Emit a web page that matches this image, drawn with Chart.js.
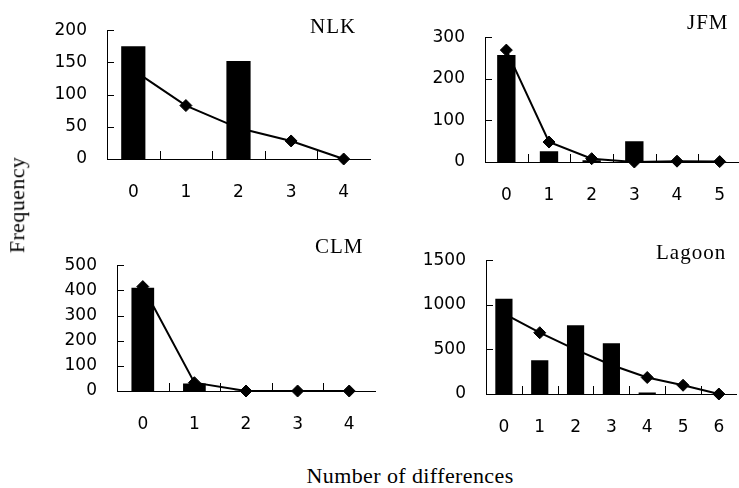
<!DOCTYPE html>
<html>
<head>
<meta charset="utf-8">
<script src="https://cdn.jsdelivr.net/npm/chart.js@4/dist/chart.umd.min.js"></script>
<style>
  html, body { margin: 0; padding: 0; background: #fff; overflow: hidden; }
  body { width: 739px; height: 488px; position: relative; }
  canvas { position: absolute; }
  .txt { position: absolute; font-family: "Liberation Serif", "Times New Roman", serif; color: #000; white-space: nowrap; line-height: 1; }
  .ttl { font-size: 21px; letter-spacing: 1px; }
  .axt { font-size: 22px; letter-spacing: 0.4px; }
</style>
</head>
<body>
<canvas id="nlk"></canvas>
<canvas id="jfm"></canvas>
<canvas id="clm"></canvas>
<canvas id="lagoon"></canvas>

<div class="txt ttl" id="t-nlk">NLK</div>
<div class="txt ttl" id="t-jfm">JFM</div>
<div class="txt ttl" id="t-clm">CLM</div>
<div class="txt ttl" id="t-lagoon">Lagoon</div>
<div class="txt axt" id="xTitle">Number of differences</div>
<div class="txt axt" id="yTitle">Frequency</div>

<script>
// --- DATA ---
const catsNLK    = ['0', '1', '2', '3', '4'];
const barsNLK    = [175, 0, 152, 0, 0];
const lineNLK    = [138, 83, 48, 28, 0];
const yTicksNLK  = [0, 50, 100, 150, 200];

const catsJFM    = ['0', '1', '2', '3', '4', '5'];
const barsJFM    = [257, 26, 4, 50, 2, 0];
const lineJFM    = [269, 48, 8, 0, 2, 1];
const yTicksJFM  = [0, 100, 200, 300];

const catsCLM    = ['0', '1', '2', '3', '4'];
const barsCLM    = [410, 30, 1, 0, 0];
const lineCLM    = [415, 33, 0, 0, 0];
const yTicksCLM  = [0, 100, 200, 300, 400, 500];

const catsLagoon   = ['0', '1', '2', '3', '4', '5', '6'];
const barsLagoon   = [1068, 377, 771, 569, 17, 0, 0];
const lineLagoon   = [900, 687, 498, 325, 185, 98, 0];
const yTicksLagoon = [0, 500, 1000, 1500];

// --- LAYOUT (plot boxes in page px) ---
const AXIS_W = 100, AXIS_H = 60, PAD_T = 15, PAD_R = 10;

// inward tick marks, like the original spreadsheet chart
const innerTicks = {
    id: 'innerTicks',
    afterDatasetsDraw(chart) {
        const { ctx, scales: { x, y } } = chart;
        ctx.save();
        ctx.strokeStyle = '#000';
        ctx.lineWidth = 1;
        ctx.beginPath();
        const n = chart.data.labels.length;
        for (let i = 1; i < n; i++) {
            const px = Math.round((x.getPixelForValue(i - 1) + x.getPixelForValue(i)) / 2) + 0.5;
            ctx.moveTo(px, y.bottom);
            ctx.lineTo(px, y.bottom - 8);
        }
        y.ticks.forEach(t => {
            if (t.value === 0) return;
            const py = Math.round(y.getPixelForValue(t.value)) + 0.5;
            ctx.moveTo(x.left, py);
            ctx.lineTo(x.left + 7, py);
        });
        ctx.stroke();
        ctx.restore();
    }
};

function makePanel(id, box, cats, bars, line, yTicks, barPct) {
    const canvas = document.getElementById(id);
    const w = Math.round(box.r - box.l) + AXIS_W + PAD_R;
    const h = Math.round(box.b - box.t) + PAD_T + AXIS_H;
    canvas.width = w;
    canvas.height = h;
    canvas.style.width = w + 'px';
    canvas.style.height = h + 'px';
    canvas.style.left = (Math.round(box.l) - AXIS_W) + 'px';
    canvas.style.top = (Math.round(box.t) - PAD_T) + 'px';

    const tickFont = { family: '"DejaVu Sans", sans-serif', size: 17 };

    return new Chart(canvas.getContext('2d'), {
        type: 'bar',
        data: {
            labels: cats,
            datasets: [
                {
                    type: 'bar',
                    data: bars,
                    backgroundColor: '#000',
                    borderWidth: 0,
                    barPercentage: barPct,
                    categoryPercentage: 1,
                    order: 0,
                },
                {
                    type: 'line',
                    data: line,
                    borderColor: '#000',
                    borderWidth: 2,
                    tension: 0,
                    pointStyle: 'rectRot',
                    pointRadius: 6,
                    pointBackgroundColor: '#000',
                    pointBorderColor: '#000',
                    pointBorderWidth: 1,
                    clip: false,
                    order: 1,
                },
            ],
        },
        options: {
            responsive: false,
            animation: false,
            devicePixelRatio: 1,
            layout: { padding: { left: 0, top: PAD_T, right: PAD_R, bottom: 0 } },
            plugins: { legend: { display: false }, tooltip: { enabled: false } },
            scales: {
                x: {
                    offset: true,
                    grid: { display: false, drawTicks: false },
                    border: { display: true, color: '#000', width: 1 },
                    ticks: { color: '#000', font: tickFont, padding: 23, maxRotation: 0 },
                    afterFit(scale) { scale.height = AXIS_H; },
                },
                y: {
                    min: 0,
                    max: yTicks[yTicks.length - 1],
                    grid: { display: false, drawTicks: false },
                    border: { display: true, color: '#000', width: 1 },
                    ticks: { color: '#000', font: tickFont, padding: 20, callback: v => String(v) },
                    afterBuildTicks(scale) { scale.ticks = yTicks.map(v => ({ value: v })); },
                    afterFit(scale) { scale.width = AXIS_W; },
                },
            },
        },
        plugins: [innerTicks],
    });
}

makePanel('nlk',    { l: 107, t: 15,  r: 370, b: 159 }, catsNLK,    barsNLK,    lineNLK,    yTicksNLK,    0.46);
makePanel('jfm',    { l: 485, t: 22,  r: 741, b: 162 }, catsJFM,    barsJFM,    lineJFM,    yTicksJFM,    0.43);
makePanel('clm',    { l: 117, t: 250, r: 375, b: 391 }, catsCLM,    barsCLM,    lineCLM,    yTicksCLM,    0.44);
makePanel('lagoon', { l: 486, t: 245, r: 738, b: 394 }, catsLagoon, barsLagoon, lineLagoon, yTicksLagoon, 0.48);

// --- TEXT PLACEMENT ---
function placeRight(id, right, capCenter) {
    const el = document.getElementById(id);
    el.style.left = (right - el.offsetWidth) + 'px';
    el.style.top = (capCenter - 10.7) + 'px';
}
placeRight('t-nlk', 356, 27);
placeRight('t-jfm', 729, 22.5);
placeRight('t-clm', 364, 246.5);
placeRight('t-lagoon', 726, 252.5);

const xTitle = document.getElementById('xTitle');
xTitle.style.left = (410 - xTitle.offsetWidth / 2) + 'px';
xTitle.style.top = (476 - 11) + 'px';

const yTitle = document.getElementById('yTitle');
yTitle.style.left = (17 - yTitle.offsetWidth / 2) + 'px';
yTitle.style.top = (205 - yTitle.offsetHeight / 2) + 'px';
yTitle.style.transform = 'rotate(-90deg)';
</script>
</body>
</html>
